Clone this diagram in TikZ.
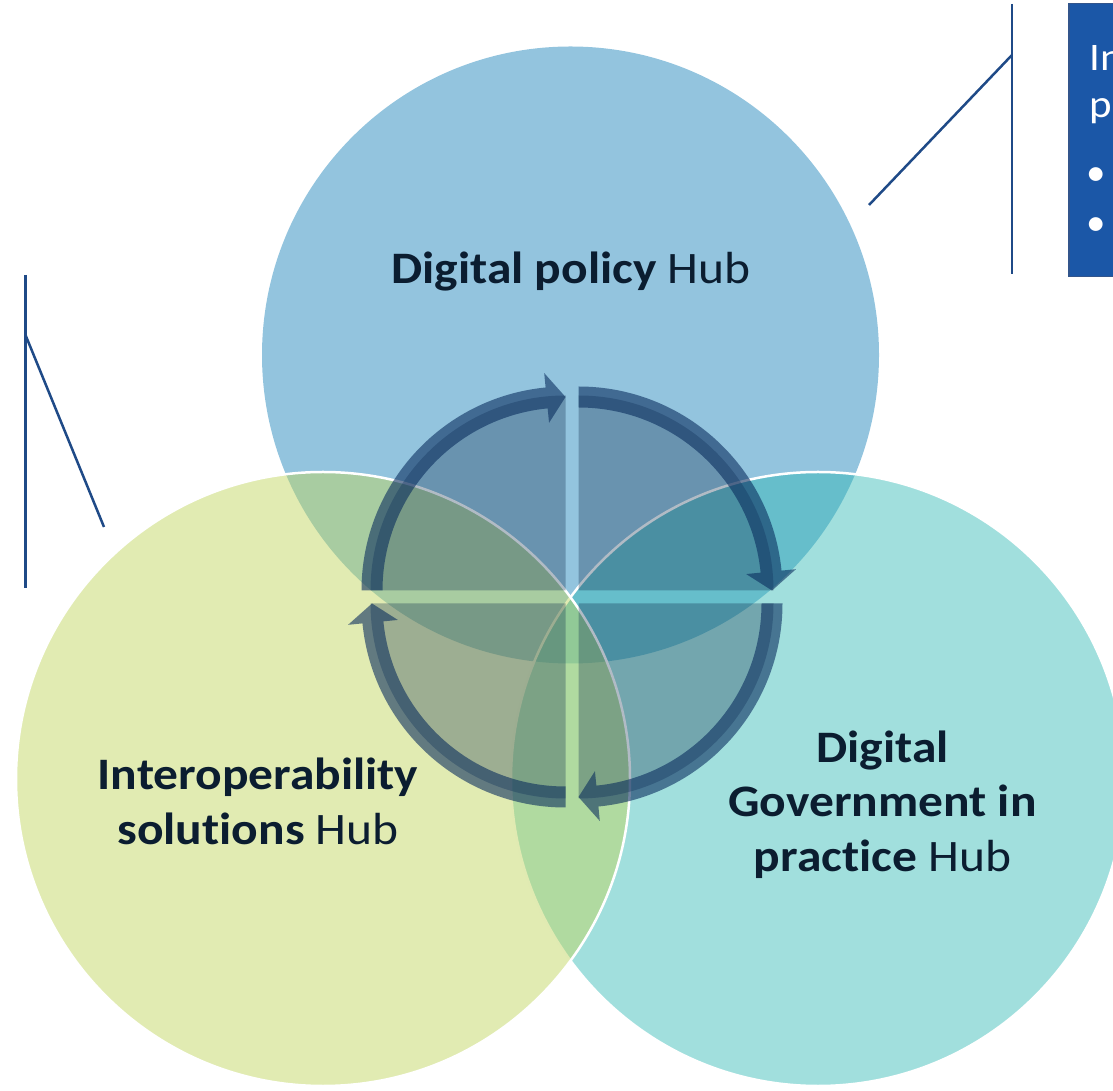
\documentclass[tikz,border=0pt]{standalone}
\usepackage{fontspec}
\setmainfont{Carlito}
\newfontfamily\hubfont[FakeStretch=1.1, Ligatures=NoCommon]{Carlito}
\definecolor{blueC}{RGB}{147,196,222}
\definecolor{tealC}{RGB}{51,185,181}
\definecolor{greenC}{RGB}{192,213,95}
\definecolor{pieC}{RGB}{20,50,80}
\definecolor{bandC}{RGB}{7,42,92}
\definecolor{navyT}{RGB}{11,29,48}
\definecolor{boxC}{RGB}{27,87,167}
\definecolor{boxB}{RGB}{50,85,140}
\definecolor{lineC}{RGB}{31,74,135}
\tikzset{
  piefill/.style={fill=pieC, fill opacity=0.33},
  bandfill/.style={fill=bandC, fill opacity=0.58},
  hubtext/.style={text=navyT, font=\hubfont\fontsize{45}{54}\selectfont, inner sep=0pt, anchor=base},
  boxtext/.style={text=white, font=\hubfont\fontsize{39}{47}\selectfont, inner sep=0pt, anchor=base west},
  callout/.style={draw=lineC, line width=2.5pt},
}
\newcommand\hubarrow[3]{%
  \begin{scope}[shift={(#1,#2)}]
    \pgfmathsetmacro\ha{#3}
    \pgfmathsetmacro\hb{#3-90}
    \pgfmathsetmacro\hc{#3-90+5.6}
    \fill[piefill] (0,0) -- (\ha:195) arc[start angle=\ha, end angle=\hb, radius=195] -- cycle;
    \fill[bandfill] (\ha:204) arc[start angle=\ha, end angle=\hc, radius=204]
      -- (\hc:218.5) -- (\hb:193.5) -- (\hc:168.5) -- (\hc:183)
      arc[start angle=\hc, end angle=\ha, radius=183] -- cycle;
  \end{scope}}
\begin{document}
\begin{tikzpicture}[x=1pt,y=1pt]
\useasboundingbox (0,0) rectangle (1113,1090);
\clip (0,0) rectangle (1113,1090);
% circles
\fill[blueC] (570.5,735) circle[radius=308.5];
\filldraw[fill=tealC, fill opacity=0.46, draw=white, line width=2.5pt] (818,311) circle[radius=307];
\filldraw[fill=greenC, fill opacity=0.48, draw=white, line width=2.5pt] (323,311) circle[radius=307];
% central cycle
\hubarrow{565.5}{499.5}{180}
\hubarrow{578.5}{499.5}{90}
\hubarrow{578.5}{486.5}{0}
\hubarrow{565.5}{486.5}{-90}
% hub labels
\node[hubtext] (dp) at (571,806) {\textbf{Digital policy} Hub};
\node[hubtext] (io1) at (258,300) {\textbf{Interoperability}};
\node[hubtext] (io2) at (258,246) {\textbf{solutions} Hub};
\node[hubtext] (dg1) at (882.5,327) {\textbf{Digital}};
\node[hubtext] (dg2) at (882.5,273) {\textbf{Government in}};
\node[hubtext] (dg3) at (882.5,219) {\textbf{practice} Hub};
% callout box (top right)
\node[draw=boxB, fill=boxC, line width=1.5pt, minimum width=80pt, minimum height=273pt, anchor=north west, inner sep=0pt] (box) at (1068,1087) {};
\node[boxtext] (bt1) at (1089,1019) {In};
\node[boxtext] (bt2) at (1089,972) {p};
\node[text=white, font=\fontsize{39}{47}\selectfont, inner sep=0pt] (b1) at (1096,913) {•};
\node[text=white, font=\fontsize{39}{47}\selectfont, inner sep=0pt] (b2) at (1096,863) {•};
% callout lines
\coordinate (rt) at (1012,1086);
\coordinate (rb) at (1012,816);
\coordinate (rk) at (1012,1035);
\coordinate (re) at (869,885);
\draw[callout] (rt) -- (rb);
\draw[callout] (rk) -- (re);
\coordinate (lt) at (25.5,815);
\coordinate (lb) at (25.5,502);
\coordinate (lk) at (25.5,755);
\coordinate (le) at (104,563);
\draw[callout] (lt) -- (lb);
\draw[callout] (lk) -- (le);
\end{tikzpicture}
\end{document}
